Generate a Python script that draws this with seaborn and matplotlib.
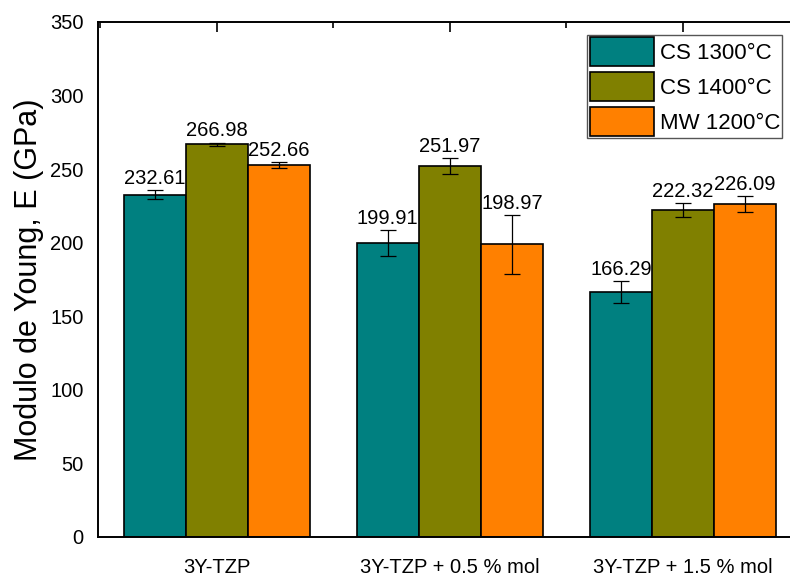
import numpy as np
import pandas as pd
import matplotlib
matplotlib.use("Agg")
import matplotlib.pyplot as plt
from matplotlib.ticker import MultipleLocator, FixedLocator
import seaborn as sns

# --- data ---
samples = ['3Y-TZP', '3Y-TZP + 0.5 % mol', '3Y-TZP + 1.5 % mol']
series = ['CS 1300°C', 'CS 1400°C', 'MW 1200°C']
cs1300 = [232.61, 199.91, 166.29]
cs1400 = [266.98, 251.97, 222.32]
mw1200 = [252.66, 198.97, 226.09]
cs1300_err = [3.0, 8.8, 7.6]
cs1400_err = [1.0, 5.5, 4.8]
mw1200_err = [2.1, 20.0, 5.3]
colors = ['#008080', '#808000', '#FF8000']

values = [cs1300, cs1400, mw1200]
errors = [cs1300_err, cs1400_err, mw1200_err]
df = pd.DataFrame({
    'sample': samples * 3,
    'series': [s for s in series for _ in samples],
    'E': cs1300 + cs1400 + mw1200,
})

sns.set_style('white')
plt.rcParams['font.family'] = ['Liberation Sans', 'DejaVu Sans']
plt.rcParams['text.color'] = 'black'
plt.rcParams['axes.labelcolor'] = 'black'
plt.rcParams['xtick.color'] = 'black'
plt.rcParams['ytick.color'] = 'black'

fig = plt.figure(figsize=(7.9, 5.78), dpi=100)
# axes runs a little past the right edge, as in the reference
ax = fig.add_axes([0.124, 0.071, 0.891, 0.891])

sns.barplot(data=df, x='sample', y='E', hue='series', palette=colors,
            edgecolor='black', linewidth=1.2, width=0.8, errorbar=None,
            saturation=1, ax=ax)

# error bars and value labels on top of each bar
for cont, vals, errs in zip(ax.containers, values, errors):
    for bar, v, e in zip(cont, vals, errs):
        xc = bar.get_x() + bar.get_width() / 2
        ax.errorbar(xc, v, yerr=e, fmt='none', ecolor='black',
                    elinewidth=0.9, capsize=6, capthick=0.9)
        ax.text(xc, v + e + 1.5, f'{v:.2f}', ha='center', va='bottom',
                fontsize=14.5)

ax.set_ylim(0, 350)
ax.set_xlim(-0.51, 2.51)
ax.set_xlabel('')
ax.set_ylabel('Modulo de Young, E (GPa)', fontsize=22, labelpad=4)

ax.yaxis.set_major_locator(MultipleLocator(50))
ax.yaxis.set_minor_locator(MultipleLocator(25))
ax.xaxis.set_minor_locator(FixedLocator([-0.5, 0.5, 1.5, 2.5]))
ax.tick_params(axis='both', which='major', labelsize=14.5, direction='out',
               length=7, width=1.2, color='black', labelcolor='black')
ax.tick_params(axis='both', which='minor', direction='out', length=4,
               width=1.2, color='black')
ax.tick_params(top=True, right=False, which='both')
ax.tick_params(axis='x', which='major', pad=8)

# top ticks point inward
for t in ax.xaxis.get_major_ticks() + ax.xaxis.get_minor_ticks():
    t.tick2line.set_marker(3)

for sp in ax.spines.values():
    sp.set_color('black')
    sp.set_linewidth(1.4)
# right frame edge falls outside the picture in the reference
ax.spines['right'].set_visible(False)

leg = ax.legend(loc='upper right', bbox_to_anchor=(0.972, 0.975),
                fontsize=16, handlelength=2.9, handleheight=1.65,
                borderpad=0.1, labelspacing=0.25, handletextpad=0.25,
                borderaxespad=0.0, fancybox=False, framealpha=1,
                edgecolor='#555555')
leg.get_frame().set_linewidth(1.0)
for t in leg.get_texts():
    t.set_color('black')

fig.savefig('out.png', dpi=100)
